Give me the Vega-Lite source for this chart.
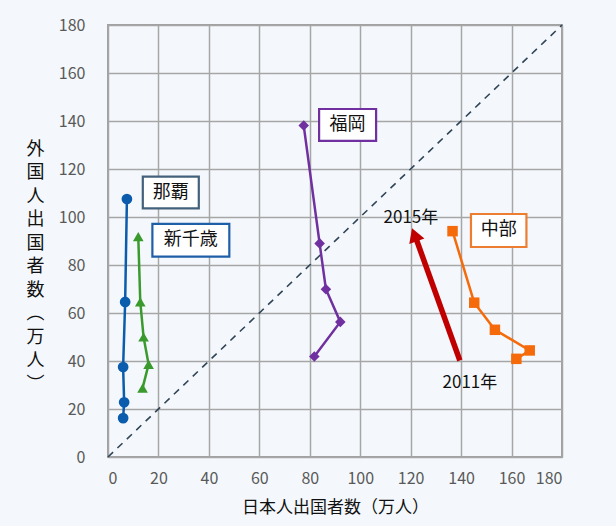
{
  "$schema": "https://vega.github.io/schema/vega-lite/v6.json",
  "width": 454,
  "height": 432,
  "autosize": {"type": "none"},
  "padding": {"left": 108, "top": 25, "right": 54, "bottom": 69},
  "background": "#f4f8fc",
  "config": {
    "font": "Noto Sans CJK JP",
    "view": {"stroke": "#a0a0a0", "strokeWidth": 2},
    "axis": {
      "grid": true, "gridColor": "#a6a6a6", "gridWidth": 1.5,
      "domain": false, "ticks": false,
      "labelFont": "Noto Sans CJK JP", "labelFontSize": 16, "labelColor": "#595959",
      "titleFont": "Noto Sans CJK JP", "titleFontSize": 17, "titleFontWeight": "normal", "titleColor": "#111111"
    }
  },
  "datasets": {
    "series": [
      {"site": "那覇", "year": 2011, "x": 6.0, "y": 16.2},
      {"site": "那覇", "year": 2012, "x": 6.4, "y": 22.8},
      {"site": "那覇", "year": 2013, "x": 6.0, "y": 37.5},
      {"site": "那覇", "year": 2014, "x": 6.8, "y": 64.6},
      {"site": "那覇", "year": 2015, "x": 7.5, "y": 107.5},
      {"site": "新千歳", "year": 2011, "x": 13.7, "y": 28.7},
      {"site": "新千歳", "year": 2012, "x": 16.1, "y": 38.6},
      {"site": "新千歳", "year": 2013, "x": 14.1, "y": 50.0},
      {"site": "新千歳", "year": 2014, "x": 12.8, "y": 64.6},
      {"site": "新千歳", "year": 2015, "x": 12.0, "y": 91.8},
      {"site": "福岡", "year": 2011, "x": 81.8, "y": 41.9},
      {"site": "福岡", "year": 2012, "x": 92.1, "y": 56.3},
      {"site": "福岡", "year": 2013, "x": 86.4, "y": 69.9},
      {"site": "福岡", "year": 2014, "x": 83.9, "y": 89.0},
      {"site": "福岡", "year": 2015, "x": 77.6, "y": 138.1},
      {"site": "中部", "year": 2011, "x": 161.9, "y": 40.9},
      {"site": "中部", "year": 2012, "x": 167.2, "y": 44.4},
      {"site": "中部", "year": 2013, "x": 153.4, "y": 53.0},
      {"site": "中部", "year": 2014, "x": 145.2, "y": 64.3},
      {"site": "中部", "year": 2015, "x": 136.6, "y": 94.1}
    ],
    "boxes": [
      {"site": "那覇", "x1": 13.8, "x2": 36.0, "y1": 103.6, "y2": 116.8, "xc": 24.9, "yc": 110.2},
      {"site": "新千歳", "x1": 17.6, "x2": 48.1, "y1": 83.5, "y2": 97.1, "xc": 32.85, "yc": 90.3},
      {"site": "福岡", "x1": 83.7, "x2": 106.3, "y1": 131.7, "y2": 145.0, "xc": 95.0, "yc": 138.35},
      {"site": "中部", "x1": 143.9, "x2": 165.9, "y1": 87.5, "y2": 101.25, "xc": 154.9, "yc": 94.4}
    ],
    "notes": [
      {"label": "2015年", "x": 120.1, "y": 99.6},
      {"label": "2011年", "x": 143.5, "y": 30.8}
    ]
  },
  "layer": [
    {
      "data": {"values": [{"a": 0, "b": 180}]},
      "mark": {"type": "rule", "color": "#2f4457", "strokeWidth": 1.6, "strokeDash": [7, 6]},
      "encoding": {
        "x": {"field": "a", "type": "quantitative", "scale": {"domain": [0, 180], "nice": false},
              "axis": {"values": [0,20,40,60,80,100,120,140,160,180], "labelPadding": 13, "titlePadding": 13},
              "title": "日本人出国者数（万人）"},
        "y": {"field": "a", "type": "quantitative", "scale": {"domain": [0, 180], "nice": false},
              "axis": {"values": [0,20,40,60,80,100,120,140,160,180], "labelPadding": 23,
                       "titleAngle": 0, "titleX": -73, "titleY": 115, "titleAlign": "center", "titleBaseline": "top", "titleLineHeight": 23.5, "titleFontSize": 18},
              "title": ["外","国","人","出","国","者","数","︵","万","人","︶"]},
        "x2": {"field": "b"},
        "y2": {"field": "b"}
      }
    },
    {
      "data": {"name": "series"},
      "mark": {"type": "line", "strokeWidth": 2.5},
      "encoding": {
        "x": {"field": "x", "type": "quantitative"},
        "y": {"field": "y", "type": "quantitative"},
        "order": {"field": "year"},
        "color": {"field": "site", "type": "nominal",
                  "scale": {"domain": ["那覇", "新千歳", "福岡", "中部"], "range": ["#0b5cad", "#3a9a2e", "#7030a0", "#f56a0a"]},
                  "legend": null}
      }
    },
    {
      "data": {"name": "series"},
      "mark": {"type": "point", "filled": true, "opacity": 1},
      "encoding": {
        "x": {"field": "x", "type": "quantitative"},
        "y": {"field": "y", "type": "quantitative"},
        "color": {"field": "site", "type": "nominal", "legend": null},
        "shape": {"field": "site", "type": "nominal",
                  "scale": {"domain": ["那覇", "新千歳", "福岡", "中部"], "range": ["circle", "triangle-up", "diamond", "square"]},
                  "legend": null},
        "size": {"field": "site", "type": "nominal",
                 "scale": {"domain": ["那覇", "新千歳", "福岡", "中部"], "range": [115, 110, 110, 150]},
                 "legend": null}
      }
    },
    {
      "data": {"values": [{"x1": 139.5, "y1": 40.2, "x2": 121.7, "y2": 92.3}]},
      "mark": {"type": "rule", "color": "#c00000", "strokeWidth": 5.5},
      "encoding": {
        "x": {"field": "x1", "type": "quantitative"},
        "y": {"field": "y1", "type": "quantitative"},
        "x2": {"field": "x2"},
        "y2": {"field": "y2"}
      }
    },
    {
      "data": {"values": [{"x": 121.5, "y": 92.6}]},
      "mark": {"type": "point", "shape": "triangle-up", "filled": true, "opacity": 1, "color": "#c00000", "size": 260, "angle": 340},
      "encoding": {
        "x": {"field": "x", "type": "quantitative"},
        "y": {"field": "y", "type": "quantitative"}
      }
    },
    {
      "data": {"name": "boxes"},
      "mark": {"type": "rect", "fill": "white", "strokeWidth": 2.2},
      "encoding": {
        "x": {"field": "x1", "type": "quantitative"},
        "x2": {"field": "x2"},
        "y": {"field": "y1", "type": "quantitative"},
        "y2": {"field": "y2"},
        "stroke": {"field": "site", "type": "nominal",
                   "scale": {"domain": ["那覇", "新千歳", "福岡", "中部"], "range": ["#44617b", "#1f5fa8", "#7030a0", "#ed7d31"]},
                   "legend": null}
      }
    },
    {
      "data": {"name": "boxes"},
      "mark": {"type": "text", "fontSize": 18, "color": "#111111", "baseline": "middle", "align": "center"},
      "encoding": {
        "x": {"field": "xc", "type": "quantitative"},
        "y": {"field": "yc", "type": "quantitative"},
        "text": {"field": "site"}
      }
    },
    {
      "data": {"name": "notes"},
      "mark": {"type": "text", "fontSize": 17, "color": "#111111", "baseline": "middle", "align": "center"},
      "encoding": {
        "x": {"field": "x", "type": "quantitative"},
        "y": {"field": "y", "type": "quantitative"},
        "text": {"field": "label"}
      }
    }
  ]
}
